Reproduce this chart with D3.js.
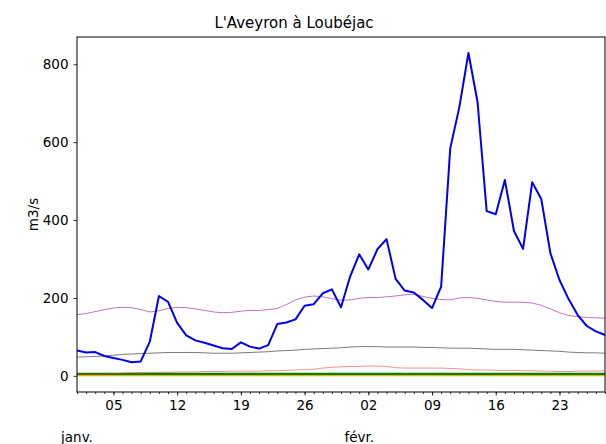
<!DOCTYPE html>
<html>
<head>
<meta charset="utf-8">
<script src="https://cdn.jsdelivr.net/npm/d3@7"></script>
<style>
body { margin: 0; background: #fff; }
text { font-family: "DejaVu Sans", sans-serif; }
</style>
</head>
<body>
<div id="chart"></div>
<script>
// daily values, 1 janv. -> 28 févr.
var startDate = new Date(2020, 0, 1);
var debit = [65, 60, 61, 51, 46, 41, 35, 37, 88, 205, 190, 136, 104, 91, 85, 78, 71, 69, 86, 75,
  70, 79, 133, 137, 145, 180, 184, 212, 222, 176, 255, 312, 273, 325, 351, 249, 219, 214, 195, 174,
  229, 584, 690, 829, 703, 423, 415, 503, 372, 326, 497, 454, 315, 246, 197, 156, 128, 114, 105];
var violet = [157, 160, 165, 170, 174, 176, 175, 170, 164, 167, 173, 176, 175, 172, 168, 164, 162, 163, 166, 168,
  168, 170, 173, 183, 195, 202, 205, 203, 198, 194, 195, 199, 201, 201, 203, 205, 208, 209, 204, 199,
  196, 195, 200, 201, 199, 195, 191, 189, 189, 189, 187, 181, 172, 162, 155, 152, 150, 149, 148];
var noir = [48, 49, 50, 51, 53, 55, 56, 57, 58, 59, 60, 60, 60, 60, 59, 58, 58, 58, 59, 60,
  61, 62, 64, 65, 66, 68, 69, 70, 71, 72, 74, 75, 75, 75, 74, 74, 74, 74, 73, 73,
  72, 71, 71, 71, 70, 69, 68, 68, 68, 67, 66, 65, 64, 63, 61, 60, 59, 59, 58];
var rouge = [4, 4, 4, 4, 5, 7, 8, 8, 9, 9, 9, 10, 10, 10, 11, 11, 11, 12, 12, 12,
  12, 13, 13, 14, 15, 16, 17, 20, 22, 23, 24, 24, 25, 25, 24, 21, 20, 20, 20, 20,
  20, 19, 18, 16, 15, 15, 14, 14, 14, 13, 13, 12, 12, 11, 11, 12, 12, 12, 13];
var seuilVert = 5;
var seuilOrange = 1;
var tickDays = ["05", "12", "19", "26", "02", "09", "16", "23"];
var tickDates = [new Date(2020,0,5), new Date(2020,0,12), new Date(2020,0,19), new Date(2020,0,26),
  new Date(2020,1,2), new Date(2020,1,9), new Date(2020,1,16), new Date(2020,1,23)];
var monthNames = ["janv.", "févr."];
var monthDates = [new Date(2020,0,1), new Date(2020,1,1)];

var width = 606, height = 444;
var plotLeft = 77, plotRight = 605, plotTop = 37, plotBottom = 392;

var dates = debit.map(function(d, i) { return d3.timeDay.offset(startDate, i); });

var svg = d3.select("#chart").append("svg")
  .attr("width", width).attr("height", height);

var x = d3.scaleTime()
  .domain([dates[0], dates[dates.length - 1]])
  .range([plotLeft, plotRight]);
var y = d3.scaleLinear()
  .domain([-41.5, 870])
  .range([plotBottom, plotTop]);

svg.append("clipPath").attr("id", "clip")
  .append("rect").attr("x", plotLeft).attr("y", plotTop)
  .attr("width", plotRight - plotLeft).attr("height", plotBottom - plotTop);

var plot = svg.append("g").attr("clip-path", "url(#clip)");

function drawSeries(values, colour, w, op) {
  var line = d3.line()
    .x(function(d, i) { return x(dates[i]); })
    .y(function(d) { return y(d); });
  plot.append("path")
    .datum(values)
    .attr("d", line)
    .attr("fill", "none")
    .attr("stroke", colour)
    .attr("stroke-width", w)
    .attr("stroke-opacity", op)
    .attr("stroke-linejoin", "round");
}

drawSeries(dates.map(function() { return seuilOrange; }), "#e8b400", 1.5, 1);
drawSeries(dates.map(function() { return seuilVert; }), "#008000", 2.2, 1);
drawSeries(rouge, "#e04040", 0.8, 0.7);
drawSeries(noir, "#000000", 0.8, 0.65);
drawSeries(violet, "#800080", 0.9, 0.6);
drawSeries(debit, "#0000ee", 2, 1);

// axes
var xMinor = d3.axisBottom(x).ticks(d3.timeDay.every(1)).tickSize(2).tickFormat("");
svg.append("g").attr("transform", "translate(0," + plotBottom + ")").call(xMinor)
  .call(function(g) { g.select(".domain").remove(); });

var xAxis = d3.axisBottom(x).tickValues(tickDates).tickSize(3.5).tickPadding(5)
  .tickFormat(function(d, i) { return tickDays[i]; });
var gx = svg.append("g").attr("transform", "translate(0," + plotBottom + ")").call(xAxis);
gx.select(".domain").remove();
gx.selectAll("text").attr("font-size", 13.5).attr("fill", "#000");

var yAxis = d3.axisLeft(y).tickValues([0, 200, 400, 600, 800]).tickSize(3.5).tickPadding(5);
var gy = svg.append("g").attr("transform", "translate(" + plotLeft + ",0)").call(yAxis);
gy.select(".domain").remove();
gy.selectAll("text").attr("font-size", 13.5).attr("fill", "#000");

svg.selectAll(".tick line").attr("stroke", "#000").attr("stroke-width", 0.8);

svg.append("rect")
  .attr("x", plotLeft).attr("y", plotTop)
  .attr("width", plotRight - plotLeft).attr("height", plotBottom - plotTop)
  .attr("fill", "none").attr("stroke", "#000").attr("stroke-width", 1);

// month labels
svg.selectAll(".month").data(monthDates).enter().append("text")
  .attr("class", "month")
  .attr("x", function(d) { return x(d); })
  .attr("y", 442)
  .attr("text-anchor", "middle")
  .attr("font-size", 13.5)
  .text(function(d, i) { return monthNames[i]; });

svg.append("text")
  .attr("x", 294).attr("y", 28)
  .attr("text-anchor", "middle")
  .attr("font-size", 15)
  .text("L'Aveyron à Loubéjac");

svg.append("text")
  .attr("transform", "translate(38," + ((plotTop + plotBottom) / 2) + ") rotate(-90)")
  .attr("text-anchor", "middle")
  .attr("font-size", 13.5)
  .text("m3/s");
</script>
</body>
</html>
